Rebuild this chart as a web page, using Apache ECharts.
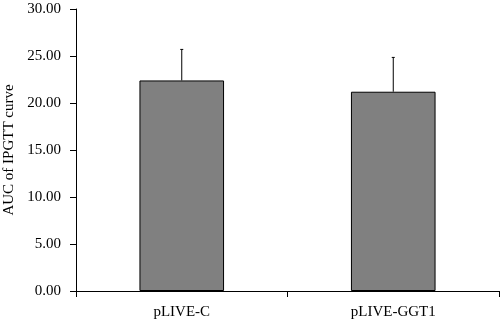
<!DOCTYPE html>
<html>
<head>
<meta charset="utf-8">
<script src="https://cdn.jsdelivr.net/npm/echarts@6/dist/echarts.min.js"></script>
<style>html,body{margin:0;padding:0;background:#fff}#c{width:500px;height:323px}</style>
</head>
<body>
<div id="c"></div>
<script>
var categories = ['pLIVE-C', 'pLIVE-GGT1'];
var means = [22.4, 21.2];
var errors = [3.3, 3.65];
var yTicks = [0, 5, 10, 15, 20, 25, 30];

var font = '"Liberation Serif", "DejaVu Serif", serif';
var chart = echarts.init(document.getElementById('c'), null, {renderer: 'canvas'});
var errData = categories.map(function (c, i) { return [i, means[i], means[i] + errors[i]]; });

chart.setOption({
  animation: false,
  grid: {left: 76, right: 1, top: 9, bottom: 32, containLabel: false, outerBoundsMode: 'none'},
  xAxis: {
    type: 'category',
    data: categories,
    axisLine: {lineStyle: {color: '#000', width: 1}},
    axisTick: {show: true, length: 6, lineStyle: {color: '#000'}},
    axisLabel: {color: '#000', fontFamily: font, fontSize: 15, margin: 14}
  },
  yAxis: {
    type: 'value',
    min: yTicks[0], max: yTicks[yTicks.length - 1], interval: 5,
    name: 'AUC of IPGTT curve',
    nameLocation: 'middle',
    nameGap: 58,
    nameTextStyle: {color: '#000', fontFamily: font, fontSize: 15},
    splitLine: {show: false},
    axisLine: {show: true, lineStyle: {color: '#000', width: 1}},
    axisTick: {show: true, length: 6, lineStyle: {color: '#000'}},
    axisLabel: {color: '#000', fontFamily: font, fontSize: 15, margin: 15,
      formatter: function (v) { return v.toFixed(2); }}
  },
  series: [
    {
      type: 'bar',
      data: means,
      barWidth: '40%',
      itemStyle: {color: '#808080', borderColor: '#000', borderWidth: 1}
    },
    {
      type: 'custom',
      data: errData,
      z: 5,
      renderItem: function (params, api) {
        var x = api.value(0);
        var lo = api.coord([x, api.value(1)]);
        var hi = api.coord([x, api.value(2)]);
        var cap = 1.5;
        return {
          type: 'group',
          children: [
            {type: 'line', shape: {x1: lo[0], y1: lo[1], x2: hi[0], y2: hi[1]}, style: {stroke: '#000', lineWidth: 1}},
            {type: 'line', shape: {x1: hi[0] - cap, y1: hi[1], x2: hi[0] + cap, y2: hi[1]}, style: {stroke: '#000', lineWidth: 1}}
          ]
        };
      }
    }
  ]
});
</script>
</body>
</html>
